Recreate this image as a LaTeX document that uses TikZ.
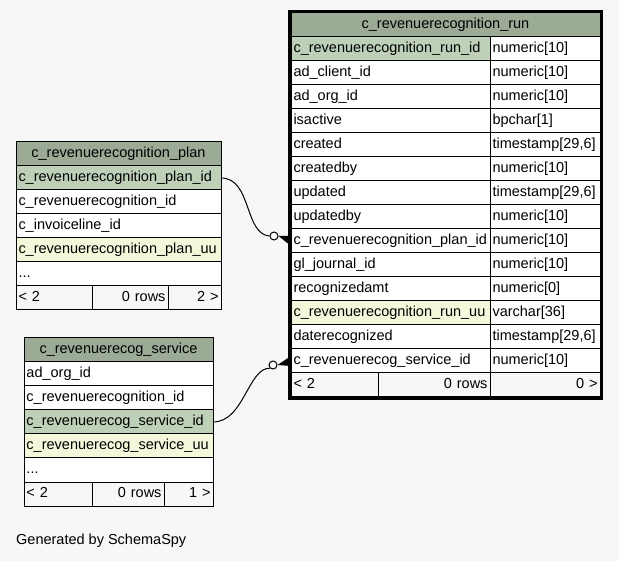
\documentclass[tikz,border=0pt]{standalone}
\usepackage{fontspec}
\setmainfont{Liberation Sans}
\usetikzlibrary{positioning}
\definecolor{bggray}{RGB}{247,247,247}
\definecolor{hdgreen}{RGB}{155,171,150}
\definecolor{pkgreen}{RGB}{190,209,184}
\definecolor{uuyellow}{RGB}{244,247,218}

\begin{document}
\begin{tikzpicture}[
  x=1pt, y=1pt,
  font=\fontsize{14.5}{17}\selectfont,
  cell/.style={draw, line width=1pt, fill=white, outer sep=0pt, inner xsep=2.5pt, inner ysep=0pt, minimum height=24pt, text height=10.5pt, text depth=3pt, anchor=north west, align=left},
  hd/.style={cell, fill=hdgreen, align=center},
  pk/.style={cell, fill=pkgreen},
  uu/.style={cell, fill=uuyellow},
  ft/.style={cell, fill=bggray},
  nxt/.style={below=0pt of #1.south west, anchor=north west},
  odot/.style={circle, draw, fill=white, line width=1pt, minimum size=8pt, inner sep=0pt},
]
\fill[bggray] (0,0) rectangle (619,-561);
\useasboundingbox (0,0) rectangle (619,-561);

% c_revenuerecognition_run
\node[hd, minimum width=309pt] (run) at (291,-13) {c\_revenuerecognition\_run};
\node[pk, text width=194pt, nxt=run] (runid) {c\_revenuerecognition\_run\_id};
\node[cell, text width=105pt, right=0pt of runid] (runidt) {numeric[10]};
\node[cell, text width=194pt, nxt=runid] (client) {ad\_client\_id};
\node[cell, text width=105pt, right=0pt of client] (clientt) {numeric[10]};
\node[cell, text width=194pt, nxt=client] (org) {ad\_org\_id};
\node[cell, text width=105pt, right=0pt of org] (orgt) {numeric[10]};
\node[cell, text width=194pt, nxt=org] (active) {isactive};
\node[cell, text width=105pt, right=0pt of active] (activet) {bpchar[1]};
\node[cell, text width=194pt, nxt=active] (created) {created};
\node[cell, text width=105pt, right=0pt of created] (createdt) {timestamp[29,6]};
\node[cell, text width=194pt, nxt=created] (createdby) {createdby};
\node[cell, text width=105pt, right=0pt of createdby] (createdbyt) {numeric[10]};
\node[cell, text width=194pt, nxt=createdby] (updated) {updated};
\node[cell, text width=105pt, right=0pt of updated] (updatedt) {timestamp[29,6]};
\node[cell, text width=194pt, nxt=updated] (updatedby) {updatedby};
\node[cell, text width=105pt, right=0pt of updatedby] (updatedbyt) {numeric[10]};
\node[cell, text width=194pt, nxt=updatedby] (planfk) {c\_revenuerecognition\_plan\_id};
\node[cell, text width=105pt, right=0pt of planfk] (planfkt) {numeric[10]};
\node[cell, text width=194pt, nxt=planfk] (journal) {gl\_journal\_id};
\node[cell, text width=105pt, right=0pt of journal] (journalt) {numeric[10]};
\node[cell, text width=194pt, nxt=journal] (amt) {recognizedamt};
\node[cell, text width=105pt, right=0pt of amt] (amtt) {numeric[0]};
\node[uu, text width=194pt, nxt=amt] (runuu) {c\_revenuerecognition\_run\_uu};
\node[cell, text width=105pt, right=0pt of runuu] (runuut) {varchar[36]};
\node[cell, text width=194pt, nxt=runuu] (daterec) {daterecognized};
\node[cell, text width=105pt, right=0pt of daterec] (daterect) {timestamp[29,6]};
\node[cell, text width=194pt, nxt=daterec] (servfk) {c\_revenuerecog\_service\_id};
\node[cell, text width=105pt, right=0pt of servfk] (servfkt) {numeric[10]};
\node[ft, text width=82pt, nxt=servfk] (runft) {< 2};
\node[ft, text width=107pt, align=right, right=0pt of runft] (runrows) {0 rows};
\node[ft, text width=105pt, align=right, right=0pt of runrows] (runkids) {0 >};

% c_revenuerecognition_plan
\node[hd, minimum width=205pt] (plan) at (16,-142) {c\_revenuerecognition\_plan};
\node[pk, text width=200pt, nxt=plan] (planid) {c\_revenuerecognition\_plan\_id};
\node[cell, text width=200pt, nxt=planid] (planrec) {c\_revenuerecognition\_id};
\node[cell, text width=200pt, nxt=planrec] (planinv) {c\_invoiceline\_id};
\node[uu, text width=200pt, nxt=planinv] (planuu) {c\_revenuerecognition\_plan\_uu};
\node[cell, text width=200pt, nxt=planuu] (planmore) {...};
\node[ft, text width=71pt, nxt=planmore] (planft) {< 2};
\node[ft, text width=71pt, align=right, right=0pt of planft] (planrows) {0 rows};
\node[ft, text width=48pt, align=right, right=0pt of planrows] (plankids) {2 >};

% c_revenuerecog_service
\node[hd, minimum width=189pt] (serv) at (24,-338) {c\_revenuerecog\_service};
\node[cell, text width=184pt, nxt=serv] (servorg) {ad\_org\_id};
\node[cell, text width=184pt, nxt=servorg] (servrec) {c\_revenuerecognition\_id};
\node[pk, text width=184pt, nxt=servrec] (servid) {c\_revenuerecog\_service\_id};
\node[uu, text width=184pt, nxt=servid] (servuu) {c\_revenuerecog\_service\_uu};
\node[cell, text width=184pt, nxt=servuu] (servmore) {...};
\node[ft, text width=63pt, nxt=servmore] (servft) {< 2};
\node[ft, text width=67pt, align=right, right=0pt of servft] (servrows) {0 rows};
\node[ft, text width=44pt, align=right, right=0pt of servrows] (servkids) {1 >};

% relations
\node[odot] (o1) at (274,-236) {};
\draw[line width=1pt] (planid.east) .. controls (252,-178) and (244,-234) .. (o1.west);
\fill (o1.east) -- ([yshift=5pt]planfk.west) -- ([yshift=-5pt]planfk.west) -- cycle;
\node[odot] (o2) at (273,-365) {};
\draw[line width=1pt] (servid.east) .. controls (244,-422) and (248,-368) .. (o2.south west);
\fill (o2.east) -- ([yshift=5pt]servfk.west) -- ([yshift=-5pt]servfk.west) -- cycle;

\draw[line width=3pt] ([shift={(-1.5pt,1.5pt)}]run.north west) rectangle ([shift={(1.5pt,-1.5pt)}]runkids.south east);

\node[anchor=west, inner sep=0pt] (gen) at (16,-541) {Generated by SchemaSpy};
\end{tikzpicture}
\end{document}
